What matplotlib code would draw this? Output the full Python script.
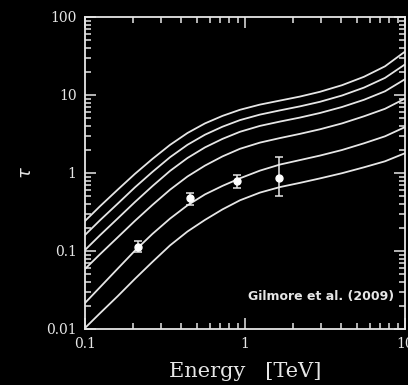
import numpy as np
import matplotlib
matplotlib.use("Agg")
import matplotlib.pyplot as plt

energy = [0.1, 0.124, 0.16, 0.205, 0.264, 0.34, 0.437, 0.562, 0.723, 0.93,
          1.24, 1.65, 2.2, 2.94, 4.04, 5.54, 7.5, 10.0]

# Optical depth tau, one curve per source redshift (top to bottom)
tau_1 = [0.2424, 0.3742, 0.6107, 0.9738, 1.516, 2.293, 3.257, 4.324, 5.397, 6.461,
         7.532, 8.477, 9.539, 10.99, 13.36, 17.12, 23.33, 36.01]
tau_2 = [0.1604, 0.2475, 0.404, 0.6537, 1.033, 1.594, 2.299, 3.097, 3.923, 4.766,
         5.607, 6.346, 7.142, 8.181, 9.855, 12.44, 16.57, 24.68]
tau_3 = [0.103, 0.159, 0.261, 0.4236, 0.6795, 1.064, 1.557, 2.129, 2.737, 3.375,
         4.017, 4.56, 5.133, 5.878, 7.018, 8.681, 11.16, 15.94]
tau_4 = [0.05878, 0.09072, 0.1494, 0.2431, 0.3899, 0.6107, 0.902, 1.244, 1.632, 2.043,
         2.453, 2.802, 3.172, 3.634, 4.324, 5.333, 6.654, 8.992]
tau_5 = [0.02154, 0.03424, 0.05931, 0.1009, 0.1657, 0.2602, 0.3853, 0.5316, 0.6834, 0.8551,
         1.073, 1.282, 1.463, 1.672, 1.972, 2.403, 2.954, 3.876]
tau_6 = [0.0103, 0.0159, 0.02633, 0.04388, 0.0725, 0.118, 0.1778, 0.2504, 0.3415, 0.4467,
         0.5607, 0.6596, 0.7465, 0.8525, 0.9941, 1.183, 1.413, 1.794]
curves = [tau_1, tau_2, tau_3, tau_4, tau_5, tau_6]

# Measured points with asymmetric errors
point_e = [0.214, 0.45, 0.89, 1.63]
point_tau = [0.112, 0.48, 0.79, 0.86]
point_lo = [0.097, 0.39, 0.64, 0.51]
point_hi = [0.135, 0.55, 0.94, 1.60]

fg = "#e6e6e6"
plt.rcParams["font.family"] = "DejaVu Serif"

fig = plt.figure(figsize=(4.08, 3.85), dpi=100, facecolor="black")
ax = fig.add_axes([85 / 408, 1 - 329 / 385, 320 / 408, 312 / 385], facecolor="black")

for tau in curves:
    ax.plot(energy, tau, color=fg, lw=1.3)

yerr = [np.array(point_tau) - np.array(point_lo), np.array(point_hi) - np.array(point_tau)]
ax.errorbar(point_e, point_tau, yerr=yerr, fmt="o", color="white", ms=5,
            ecolor=fg, elinewidth=1.1, capsize=3, capthick=1.1)

ax.set_xscale("log")
ax.set_yscale("log")
ax.set_xlim(0.1, 10)
ax.set_ylim(0.01, 100)
ax.set_xticks([0.1, 1, 10])
ax.set_xticklabels(["0.1", "1", "10"])
ax.set_yticks([0.01, 0.1, 1, 10, 100])
ax.set_yticklabels(["0.01", "0.1", "1", "10", "100"])

for s in ax.spines.values():
    s.set_color(fg)
    s.set_linewidth(1.3)
ax.tick_params(which="both", direction="in", colors=fg, top=True, right=True, width=1.1)
ax.tick_params(which="major", length=8, labelsize=10, pad=6)
ax.tick_params(which="minor", length=4)

ax.set_xlabel("Energy   [TeV]", color=fg, fontsize=15, labelpad=8)
ax.set_ylabel(r"$\tau$", color=fg, fontsize=13, labelpad=8)

ax.text(0.51, 0.105, "Gilmore et al. (2009)", transform=ax.transAxes, color=fg,
        fontsize=9, fontweight="bold", family="DejaVu Sans", va="center")

fig.savefig("out.png", dpi=100, facecolor="black")
